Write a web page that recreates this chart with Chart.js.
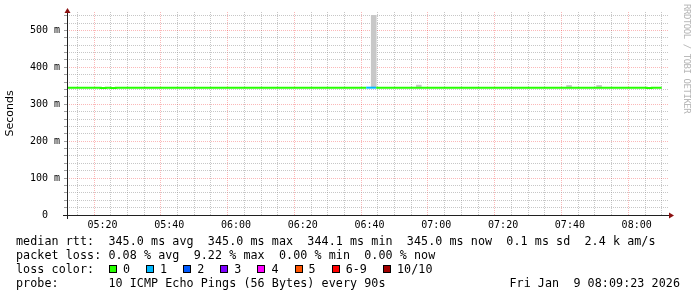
<!DOCTYPE html>
<html>
<head>
<meta charset="utf-8">
<script src="https://cdn.jsdelivr.net/npm/chart.js@4.4.1/dist/chart.umd.min.js"></script>
<style>
  html, body { margin: 0; padding: 0; background: #fff; }
  #wrap { position: relative; width: 697px; height: 297px; overflow: hidden; }
  #graph { position: absolute; left: 0; top: 0; }
  .txt {
    position: absolute;
    font-family: 'DejaVu Sans Mono', monospace;
    font-size: 11.7px;
    letter-spacing: 0.07px;
    line-height: 14px;
    white-space: pre;
    color: #000;
  }
  #lossBoxes { display: flex; align-items: center; }
  #lossBoxes .box {
    display: inline-block;
    width: 6px; height: 6px;
    border: 1px solid #000;
    margin-right: 6px;
  }
  #lossBoxes .lab { margin-right: 16px; }
  #credit {
    position: absolute;
    left: 692px; top: 4px;
    font-family: 'DejaVu Sans Mono', monospace;
    font-size: 9px;
    letter-spacing: -0.45px;
    line-height: 10px;
    color: #b4b4b4;
    white-space: pre;
    transform: rotate(90deg);
    transform-origin: 0 0;
  }
</style>
</head>
<body>
<div id="wrap">
  <canvas id="graph" width="697" height="297"></canvas>
  <div id="credit">RRDTOOL / TOBI OETIKER</div>
  <div class="txt" id="lineRtt" style="left:16px; top:234px;"></div>
  <div class="txt" id="lineLoss" style="left:16px; top:248px;"></div>
  <div class="txt" style="left:16px; top:262px;">loss color:</div>
  <div class="txt" id="lossBoxes" style="left:109px; top:262px;"></div>
  <div class="txt" id="lineProbe" style="left:16px; top:276px;"></div>
  <div class="txt" id="lineDate" style="right:17px; top:276px;"></div>
</div>
<script>
// Graphe smokeping : median rtt + fumée + couleur de perte

// fenêtre affichée, en minutes depuis minuit (05:09:23 -> 08:09:23)
const timeStart = 309.383;
const timeEnd = 489.383;

// graduations
const xTickValues = [320, 340, 360, 380, 400, 420, 440, 460, 480];
const xTickLabels = ['05:20', '05:40', '06:00', '06:20', '06:40', '07:00', '07:20', '07:40', '08:00'];
const yTickValues = [0, 100, 200, 300, 400, 500];
const yTickLabels = ['0  ', '100 m', '200 m', '300 m', '400 m', '500 m'];

// median rtt (ms), fin de chaque pas de 90 s où la valeur change
const sampleTimes = [309.0, 319.5, 321.0, 322.5, 324.0, 399.0, 400.5, 402.0, 483.0, 484.5, 487.5];
const medianRtt   = [345.0, 345.0, 344.1, 345.0, 344.1, 345.0, 345.0, 345.0, 345.0, 344.1, 345.0];
const lossCount   = [0,     0,     0,     0,     0,     0,     1,     1,     0,     0,     0];

// fumée (min / max des pings) là où elle dépasse de la ligne
const smokeTimes = [402.0, 415.5, 460.5, 469.5];
const smokeMin   = [345.0, 344.6, 344.7, 344.6];
const smokeMax   = [541.0, 352.0, 351.0, 351.0];

// légende des pertes
const lossLabels = ['0', '1', '2', '3', '4', '5', '6-9', '10/10'];
const lossColors = ['#26ff00', '#00b8ff', '#0059ff', '#7e00ff', '#ff00ff', '#ff5500', '#ff0000', '#a10000'];

// textes du bas
const statsRtt = 'median rtt:  345.0 ms avg  345.0 ms max  344.1 ms min  345.0 ms now  0.1 ms sd  2.4 k am/s';
const statsLoss = 'packet loss: 0.08 % avg  9.22 % max  0.00 % min  0.00 % now';
const probeText = 'probe:       10 ICMP Echo Pings (56 Bytes) every 90s';
const dateText = 'Fri Jan  9 08:09:23 2026';

const gridMinor = 'rgba(143,143,143,0.5)';
const gridMajor = 'rgba(240,0,0,0.28)';

function lossColorIndex(n) {
    if (n >= 10) return 7;
    if (n >= 6) return 6;
    return n;
}

// axes façon rrdtool avec flèches
const rrdAxesPlugin = {
    id: 'rrdAxes',
    afterDraw(chart) {
        const { ctx, chartArea: a } = chart;
        const x0 = Math.round(a.left) + 0.5;
        const y0 = Math.round(a.bottom) + 0.5;
        ctx.save();
        ctx.strokeStyle = '#202020';
        ctx.lineWidth = 1;
        ctx.beginPath();
        ctx.moveTo(a.left - 4, y0);
        ctx.lineTo(a.right + 1, y0);
        ctx.moveTo(x0, a.bottom + 4);
        ctx.lineTo(x0, a.top - 2);
        ctx.stroke();
        ctx.fillStyle = '#8b1010';
        ctx.beginPath();
        ctx.moveTo(x0 - 3, a.top + 1);
        ctx.lineTo(x0 + 3, a.top + 1);
        ctx.lineTo(x0, a.top - 4);
        ctx.closePath();
        ctx.fill();
        ctx.beginPath();
        ctx.moveTo(a.right + 1, y0 - 3);
        ctx.lineTo(a.right + 1, y0 + 3);
        ctx.lineTo(a.right + 6, y0);
        ctx.closePath();
        ctx.fill();
        ctx.restore();
    }
};

function createSmokeChart() {
    const canvas = document.getElementById('graph');
    const ctx = canvas.getContext('2d');

    Chart.defaults.font.family = "'DejaVu Sans Mono', monospace";
    Chart.defaults.font.size = 10;
    Chart.defaults.color = '#000';

    const medianPoints = sampleTimes.map((t, i) => ({ x: t, y: medianRtt[i] }));
    const smokeBars = smokeTimes.map((t, i) => ({ x: t - 0.75, y: [smokeMin[i], smokeMax[i]] }));

    return new Chart(ctx, {
        type: 'line',
        data: {
            datasets: [
                {
                    type: 'line',
                    label: 'median rtt',
                    data: medianPoints,
                    stepped: 'after',
                    borderWidth: 2,
                    borderColor: lossColors[0],
                    borderCapStyle: 'butt',
                    pointRadius: 0,
                    fill: false,
                    clip: 0,
                    order: 0,
                    segment: {
                        borderColor: c => lossColors[lossColorIndex(lossCount[c.p1DataIndex])]
                    }
                },
                {
                    type: 'bar',
                    label: 'smoke',
                    data: smokeBars,
                    backgroundColor: '#c8c8c8',
                    borderWidth: 0,
                    barThickness: 5,
                    order: 1
                }
            ]
        },
        options: {
            responsive: false,
            animation: false,
            events: [],
            layout: { padding: { top: 12, right: 29, left: 0, bottom: 0 } },
            plugins: {
                legend: { display: false },
                tooltip: { enabled: false }
            },
            scales: {
                x: {
                    type: 'linear',
                    min: timeStart,
                    max: timeEnd,
                    offset: false,
                    afterBuildTicks: scale => {
                        const ticks = [];
                        for (let v = 310; v <= 485; v += 5) ticks.push({ value: v });
                        scale.ticks = ticks;
                    },
                    afterFit: scale => { scale.height = 82; },
                    ticks: {
                        autoSkip: false,
                        maxRotation: 0,
                        padding: 4,
                        font: { size: 10 },
                        color: '#000',
                        callback: v => {
                            const i = xTickValues.indexOf(v);
                            return i >= 0 ? xTickLabels[i] : '';
                        }
                    },
                    grid: {
                        drawTicks: false,
                        lineWidth: 1,
                        color: c => (c.tick && c.tick.value % 20 === 0) ? gridMajor : gridMinor
                    },
                    border: { display: false, dash: [1, 1] }
                },
                y: {
                    type: 'linear',
                    min: 0,
                    max: 550,
                    afterBuildTicks: scale => {
                        const ticks = [];
                        for (let v = 0; v <= 540; v += 20) ticks.push({ value: v });
                        scale.ticks = ticks;
                    },
                    afterFit: scale => { scale.width = 67; },
                    ticks: {
                        autoSkip: false,
                        padding: 4,
                        font: { size: 10 },
                        color: '#000',
                        callback: v => {
                            const i = yTickValues.indexOf(v);
                            return i >= 0 ? yTickLabels[i] : '';
                        }
                    },
                    grid: {
                        drawTicks: true,
                        tickLength: 3,
                        tickColor: '#a0a0a0',
                        lineWidth: 1,
                        color: c => (c.tick && c.tick.value % 100 === 0) ? gridMajor : gridMinor
                    },
                    border: { display: false, dash: [1, 1] },
                    title: {
                        display: true,
                        text: 'Seconds',
                        color: '#000',
                        font: { family: "'DejaVu Sans', sans-serif", size: 11 },
                        padding: { top: 4, bottom: 4 }
                    }
                }
            }
        },
        plugins: [rrdAxesPlugin]
    });
}

function fillLegendText() {
    document.getElementById('lineRtt').textContent = statsRtt;
    document.getElementById('lineLoss').textContent = statsLoss;
    document.getElementById('lineProbe').textContent = probeText;
    document.getElementById('lineDate').textContent = dateText;

    const holder = document.getElementById('lossBoxes');
    lossLabels.forEach((lab, i) => {
        const box = document.createElement('span');
        box.className = 'box';
        box.style.background = lossColors[i];
        const txt = document.createElement('span');
        txt.className = 'lab';
        txt.textContent = lab;
        holder.appendChild(box);
        holder.appendChild(txt);
    });
}

fillLegendText();
window.smokeChart = createSmokeChart();
</script>
</body>
</html>
